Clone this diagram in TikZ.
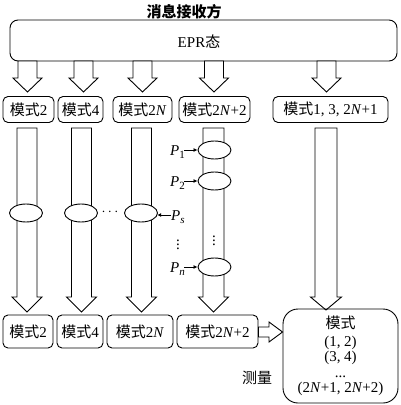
\documentclass[tikz,border=0pt]{standalone}
\usepackage{fontspec}
\setmainfont{Liberation Serif}
\newfontfamily\cjk{Noto Sans CJK SC}
\usetikzlibrary{arrows.meta,shapes.geometric}
\newcommand\blockarr[6]{%
  \draw[arrshape] (#1-#5,#2) -- (#1-#5,#3) -- (#1-#6,#3) -- (#1,#4) -- (#1+#6,#3) -- (#1+#5,#3) -- (#1+#5,#2) -- cycle;}
\newcommand\Nit{\textit{N}}
\newcommand\mo{{\cjk 模式}}
\begin{document}
\begin{tikzpicture}[x=1pt,y=-1pt,
  every node/.style={font=\fontsize{15}{17}\selectfont, inner sep=0pt},
  modebox/.style={draw, line width=0.9pt, rounded corners=5pt, minimum height=26pt},
  arrshape/.style={draw, line width=0.9pt, fill=white},
  ell/.style={draw, line width=0.9pt, fill=white, ellipse, minimum width=33pt, minimum height=18pt},
  plabel/.style={anchor=east},
  parr/.style={-{Latex[length=4pt,width=4pt]}, line width=0.8pt}]
\useasboundingbox (0,0) rectangle (400,405);
% title and EPR box
\node (title) at (184,12) {\cjk\bfseries 消息接收方};
\node[draw, line width=0.9pt, rounded corners=8pt, minimum width=387pt, minimum height=41pt] (epr) at (203.5,40.5) {};
\node (eprt) at (199,42) {EPR{\cjk 态}};
% top arrows
\blockarr{27.5}{61}{78}{92}{9.5}{14.5}
\blockarr{83.5}{61}{78}{92}{9.5}{14.5}
\blockarr{142.5}{61}{78}{92}{9.5}{14.5}
\blockarr{214}{61}{78}{92}{9.5}{14.5}
\blockarr{326.5}{61}{78}{92}{9.5}{14.5}
% top mode boxes
\node[modebox, minimum width=51pt] (t1) at (28.5,109.5) {\mo 2};
\node[modebox, minimum width=45pt] (t2) at (80.5,109.5) {\mo 4};
\node[modebox, minimum width=59pt] (t3) at (142.5,109.5) {\mo 2\Nit};
\node[modebox, minimum width=71pt] (t4) at (214.5,109.5) {\mo 2\Nit+2};
\node[modebox, minimum width=115pt] (t5) at (330.5,109.5) {\mo 1, 3, 2\Nit+1};
% long column arrows
\blockarr{27}{128}{297}{312}{10}{15}
\blockarr{81.5}{128}{297}{312}{10}{15}
\blockarr{141.5}{128}{297}{312}{10}{15}
\blockarr{213.5}{128}{297}{312}{10.5}{15}
\blockarr{326}{128}{297}{310}{11}{15.5}
% ellipses
\node[ell] (e1) at (26,213) {};
\node[ell] (e2) at (81,213) {};
\node[ell] (e3) at (141,213) {};
\node (hd) at (110,212) {$\cdots$};
\node[ell] (f1) at (214.5,150) {};
\node[ell] (f2) at (214.5,181) {};
\node[ell] (fn) at (214.5,267) {};
\node (vd1) at (214,238) {$\vdots$};
\node (vd2) at (178,242) {$\vdots$};
% P labels
\node[plabel] (p1) at (185,152) {\textit{P}\raisebox{-0.35ex}{\fontsize{11}{12}\selectfont 1}};
\node[plabel] (p2) at (185,183) {\textit{P}\raisebox{-0.35ex}{\fontsize{11}{12}\selectfont 2}};
\node[plabel] (pn) at (185,269) {\textit{P}\raisebox{-0.35ex}{\fontsize{11}{12}\selectfont\itshape n}};
\node[anchor=west] (ps) at (171,217) {\textit{P}\raisebox{-0.35ex}{\fontsize{11}{12}\selectfont\itshape s}};
\coordinate (psend) at (157.2,215);
\draw[parr] (ps.west |- psend) -- (psend);
\draw[parr] (184,150) -- (f1.west);
\draw[parr] (184,181) -- (f2.west);
\draw[parr] (184,267) -- (fn.west);
% bottom boxes
\node[modebox, minimum width=50pt, minimum height=33pt] (c1) at (28,331.5) {\mo 2};
\node[modebox, minimum width=46pt, minimum height=33pt] (c2) at (80,331.5) {\mo 4};
\node[modebox, minimum width=66pt, minimum height=33pt] (c3) at (140,331.5) {\mo 2\Nit};
\node[modebox, minimum width=81pt, minimum height=33pt] (c4) at (217.5,331.5) {\mo 2\Nit+2};
\node[draw, line width=0.9pt, rounded corners=15pt, minimum width=115pt, minimum height=94pt,
      align=center, font=\fontsize{15}{15.5}\selectfont] (big) at (340.5,356)
  {\mo\\[2pt](1, 2)\\(3, 4)\\...\\(2\Nit+1, 2\Nit+2)};
% right arrow
\draw[arrshape] (c4.east |- 0,327) -- (269,327) -- (269,322) -- (big.west |- 0,332) -- (269,342) -- (269,337) -- (c4.east |- 0,337) -- cycle;
\node (meas) at (257,378) {\cjk 测量};
\end{tikzpicture}
\end{document}
